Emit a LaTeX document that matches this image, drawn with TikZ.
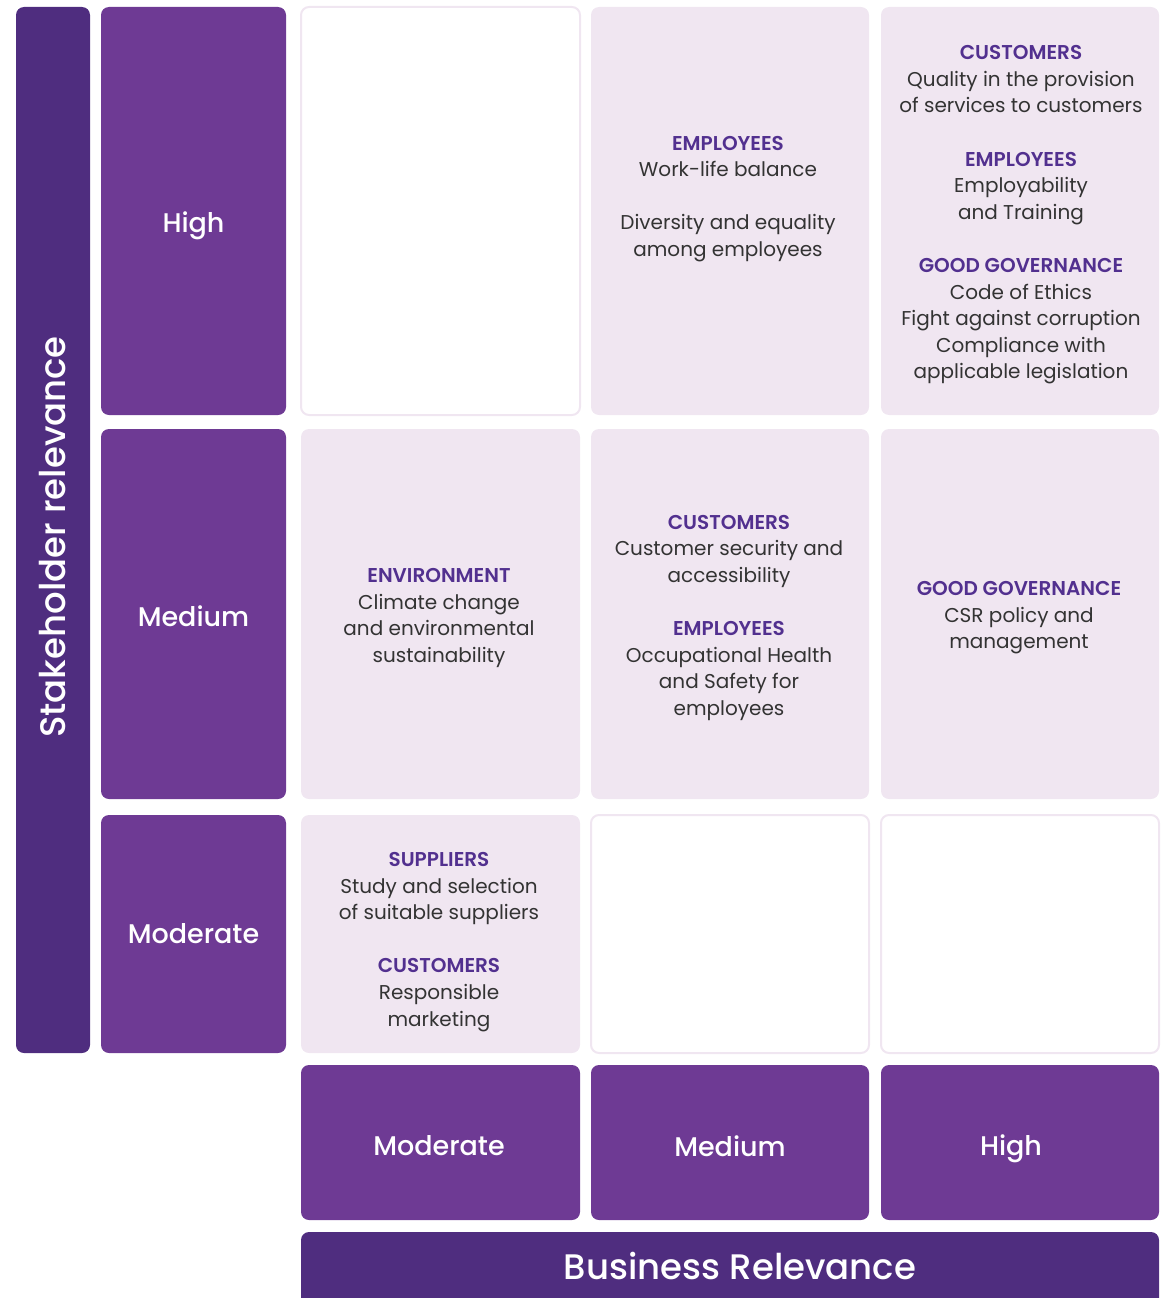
\documentclass[tikz,border=0pt]{standalone}
\usepackage{fontspec}
\setmainfont{Poppins}
\newfontfamily\medfont{Poppins Medium}
\newfontfamily\semifont{Poppins SemiBold}
\definecolor{darkpurple}{HTML}{4F2D7F}
\definecolor{midpurple}{HTML}{6E3A94}
\definecolor{lavender}{HTML}{F0E6F1}
\definecolor{headpurple}{HTML}{52308F}
\definecolor{bodygray}{HTML}{333333}
\newcommand{\topic}[1]{{\color{headpurple}\semifont #1}}
\tikzset{
  cellbox/.style={fill=lavender,rounded corners=8pt,inner sep=0pt},
  emptybox/.style={draw=lavender,line width=2pt,fill=white,rounded corners=8pt,inner sep=0pt},
  levelbox/.style={fill=midpurple,rounded corners=8pt,inner sep=0pt,text=white,font=\medfont\fontsize{27}{32}\selectfont},
  axisbox/.style={fill=darkpurple,rounded corners=8pt,inner sep=0pt,text=white,font=\medfont\fontsize{35.5}{40}\selectfont},
  celltext/.style={align=center,text=bodygray,font=\fontsize{20}{26.6}\selectfont}
}
\begin{document}
\begin{tikzpicture}[x=1pt,y=-1pt]
\useasboundingbox (0,0) rectangle (1171,1298);
% axes
\node[axisbox,minimum width=74,minimum height=1046] (ax_s) at (53,530) {};
\node[axisbox,rotate=90] (ax_s_t) at (53,537) {Stakeholder relevance};
\node[axisbox,minimum width=858,minimum height=80] (ax_b) at (730,1272) {};
\node[text=white,font=\medfont\fontsize{35.5}{40}\selectfont] (ax_b_t) at (740,1266) {Business Relevance};
% stakeholder levels
\node[levelbox,minimum width=185,minimum height=408] (l_high) at (193.5,211) {};
\node[text=white,font=\medfont\fontsize{27}{32}\selectfont] at (193.5,226) {High};
\node[levelbox,minimum width=185,minimum height=370] (l_medium) at (193.5,614) {};
\node[text=white,font=\medfont\fontsize{27}{32}\selectfont] at (193.5,616) {Medium};
\node[levelbox,minimum width=185,minimum height=238] (l_moderate) at (193.5,934) {Moderate};
% business levels
\node[levelbox,minimum width=279,minimum height=155] (b_moderate) at (440.5,1142.5) {};
\node[levelbox,minimum width=278,minimum height=155] (b_medium) at (730,1142.5) {};
\node[levelbox,minimum width=278,minimum height=155] (b_high) at (1020,1142.5) {};
\node[text=white,font=\medfont\fontsize{27}{32}\selectfont] at (439,1146) {Moderate};
\node[text=white,font=\medfont\fontsize{27}{32}\selectfont] at (730,1146) {Medium};
\node[text=white,font=\medfont\fontsize{27}{32}\selectfont] at (1011,1149) {High};
% row high
\node[emptybox,minimum width=279,minimum height=408] (c_1_1) at (440.5,211) {};
\node[cellbox,minimum width=278,minimum height=408] (c_1_2) at (730,211) {};
\node[cellbox,minimum width=278,minimum height=408] (c_1_3) at (1020,211) {};
\node[celltext] (t_1_2) at (728,199) {\topic{EMPLOYEES}\\Work-life balance\\[26.6pt]Diversity and equality\\among employees};
\node[celltext] (t_1_3) at (1021,215) {\topic{CUSTOMERS}\\Quality in the provision\\of services to customers\\[26.6pt]\topic{EMPLOYEES}\\Employability\\and Training\\[26.6pt]\topic{GOOD GOVERNANCE}\\Code of Ethics\\Fight against corruption\\Compliance with\\applicable legislation};
% row medium
\node[cellbox,minimum width=279,minimum height=370] (c_2_1) at (440.5,614) {};
\node[cellbox,minimum width=278,minimum height=370] (c_2_2) at (730,614) {};
\node[cellbox,minimum width=278,minimum height=370] (c_2_3) at (1020,614) {};
\node[celltext] (t_2_1) at (439,618) {\topic{ENVIRONMENT}\\Climate change\\and environmental\\sustainability};
\node[celltext] (t_2_2) at (729,618) {\topic{CUSTOMERS}\\Customer security and\\accessibility\\[26.6pt]\topic{EMPLOYEES}\\Occupational Health\\and Safety for\\employees};
\node[celltext] (t_2_3) at (1019,618) {\topic{GOOD GOVERNANCE}\\CSR policy and\\management};
% row moderate
\node[cellbox,minimum width=279,minimum height=238] (c_3_1) at (440.5,934) {};
\node[emptybox,minimum width=278,minimum height=238] (c_3_2) at (730,934) {};
\node[emptybox,minimum width=278,minimum height=238] (c_3_3) at (1020,934) {};
\node[celltext] (t_3_1) at (439,942) {\topic{SUPPLIERS}\\Study and selection\\of suitable suppliers\\[26.6pt]\topic{CUSTOMERS}\\Responsible\\marketing};
\end{tikzpicture}
\end{document}
